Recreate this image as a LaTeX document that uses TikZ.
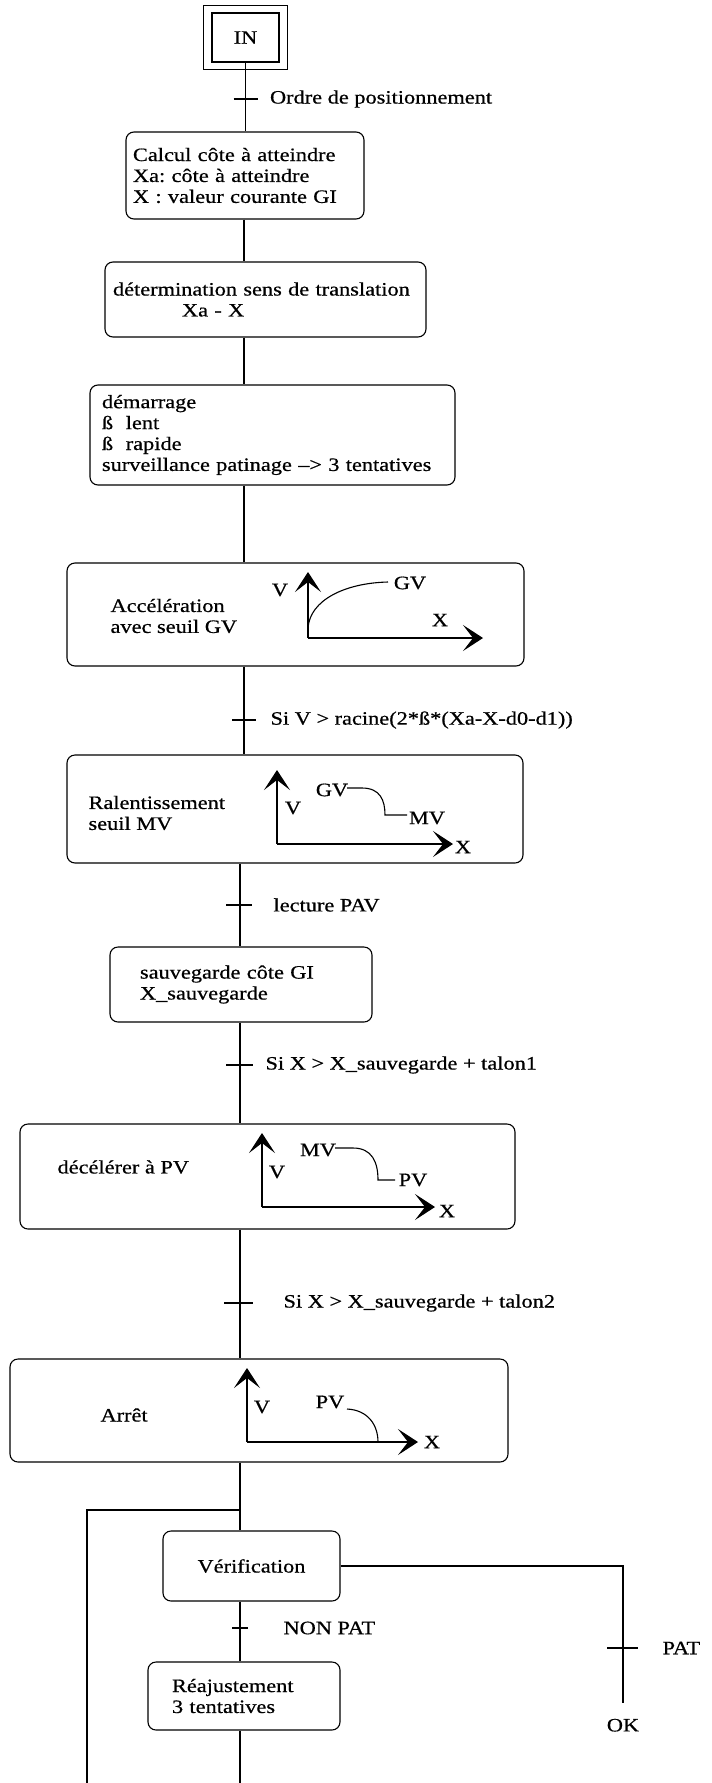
\documentclass[tikz,border=0pt]{standalone}
\usepackage{fontspec}
\setmainfont{Liberation Serif}[FakeStretch=1.18, FakeBold=0.6]
\usetikzlibrary{arrows.meta,positioning}
\frenchspacing

\begin{document}
\begin{tikzpicture}[x=1bp, y=-1bp, line width=1.1bp,
    font=\fontsize{19}{21}\selectfont,
    etape/.style={draw, rounded corners=8bp, inner ysep=0pt, align=left},
    fleche/.style={-{Stealth[length=20bp,width=26bp,inset=10bp]}},
    recept/.style={anchor=west, inner sep=0pt, align=left}]

    \useasboundingbox (0,0) rectangle (712,1783);

    % Etape initiale
    \node[draw, minimum width=67bp, minimum height=49bp] (in) at (245.5,37.5) {IN};
    \draw ([shift={(-8,-7)}]in.north west) rectangle ([shift={(8,7)}]in.south east);

    % Etapes
    \node[etape, inner xsep=7bp, text width=224bp, minimum height=87bp]
        (calc) at (245,175.5) {Calcul côte à atteindre\\Xa: côte à atteindre\\X : valeur courante GI};
    \node[etape, inner xsep=8bp, text width=305bp, minimum height=75bp]
        (sens) at (265.5,299.5) {détermination sens de translation\\\hspace*{69bp}Xa - X};
    \node[etape, inner xsep=12bp, text width=341bp, minimum height=100bp]
        (dem) at (272.5,435) {démarrage\\ß\ \ lent\\ß\ \ rapide\\surveillance patinage --> 3 tentatives};
    \node[etape, minimum width=457bp, minimum height=103bp] (acc) at (295.5,614.5) {};
    \node[etape, minimum width=456bp, minimum height=108bp] (ral) at (295,809) {};
    \node[etape, inner xsep=30bp, text width=202bp, minimum height=75bp]
        (sauv) at (241,984.5) {sauvegarde côte GI\\X\_sauvegarde};
    \node[etape, minimum width=495bp, minimum height=105bp] (dec) at (267.5,1176.5) {};
    \node[etape, minimum width=498bp, minimum height=103bp] (arr) at (259,1410.5) {};
    \node[etape, align=center, minimum width=177bp, minimum height=70bp]
        (verif) at (251.5,1566) {Vérification};
    \node[etape, inner xsep=24bp, text width=144bp, minimum height=68bp]
        (reaj) at (244,1696) {Réajustement\\3 tentatives};

    % Textes des etapes avec courbe
    \node[recept] (acc-txt) at (110,616) {Accélération\\avec seuil GV};
    \node[recept] (ral-txt) at (88,813) {Ralentissement\\seuil MV};
    \node[recept] (dec-txt) at (57,1167) {décélérer à PV};
    \node[recept] (arr-txt) at (100,1415) {Arrêt};

    % Courbe acceleration
    \coordinate (acc-o) at (308,638);
    \draw[fleche] (acc-o) -- ++(0,-66);
    \draw[fleche] (acc-o) -- ++(175,0);
    \draw (308,628) .. controls (310,600) and (345,583) .. (388,582);
    \node (acc-v) at (280,590) {V};
    \node (acc-gv) at (410,583) {GV};
    \node (acc-x) at (440,620) {X};

    % Courbe ralentissement
    \coordinate (ral-o) at (277,844);
    \draw[fleche] (ral-o) -- ++(0,-74);
    \draw[fleche] (ral-o) -- ++(176,0);
    \draw (347,788) -- (362,788) .. controls (380,788) and (385,800) .. (385,815) -- (407,815);
    \node (ral-v) at (293,808) {V};
    \node (ral-gv) at (332,790) {GV};
    \node (ral-mv) at (427,818) {MV};
    \node (ral-x) at (463,847) {X};

    % Courbe deceleration
    \coordinate (dec-o) at (262,1207);
    \draw[fleche] (dec-o) -- ++(0,-74);
    \draw[fleche] (dec-o) -- ++(173,0);
    \draw (335,1148) -- (353,1148) .. controls (372,1148) and (378,1162) .. (378,1180) -- (395,1180);
    \node (dec-v) at (277,1172) {V};
    \node (dec-mv) at (318,1150) {MV};
    \node (dec-pv) at (413,1180) {PV};
    \node (dec-x) at (447,1211) {X};

    % Courbe arret
    \coordinate (arr-o) at (247,1442);
    \draw[fleche] (arr-o) -- ++(0,-74);
    \draw[fleche] (arr-o) -- ++(171,0);
    \draw (347,1409) .. controls (368,1410) and (378,1425) .. (378,1442);
    \node (arr-v) at (262,1407) {V};
    \node (arr-pv) at (330,1402) {PV};
    \node (arr-x) at (432,1442) {X};

    % Liaisons
    \coordinate (fil) at (244,0);
    \coordinate (fil2) at (240,0);
    \draw (in.south) -- (in.south |- calc.north);
    \draw (fil |- calc.south) -- (fil |- sens.north);
    \draw (fil |- sens.south) -- (fil |- dem.north);
    \draw (fil |- dem.south) -- (fil |- acc.north);
    \draw (fil |- acc.south) -- (fil |- ral.north);
    \draw (fil2 |- ral.south) -- (fil2 |- sauv.north);
    \draw (fil2 |- sauv.south) -- (fil2 |- dec.north);
    \draw (fil2 |- dec.south) -- (fil2 |- arr.north);
    \draw (fil2 |- arr.south) -- (fil2 |- verif.north);
    \draw (fil2 |- verif.south) -- (fil2 |- reaj.north);
    \coordinate (fin) at (240,1783);
    \draw (fil2 |- reaj.south) -- (fin);

    % Reprise
    \coordinate (boucle) at (87,1510);
    \draw (fil2 |- boucle) -- (boucle) -- (boucle |- fin);

    % Branche PAT
    \coordinate (patfin) at (623,1703);
    \draw (verif.east) -| (patfin);
    \node[below=12bp of patfin] (ok) {OK};

    % Transitions
    \coordinate (t1) at (245.5,99);
    \draw ([xshift=-12bp]t1) -- ([xshift=12bp]t1);
    \node[recept, right=24bp of t1] (t1-txt) {Ordre de positionnement};

    \coordinate (t2) at (244,720);
    \draw ([xshift=-12bp]t2) -- ([xshift=12bp]t2);
    \node[recept, right=26bp of t2] (t2-txt) {Si V > racine(2*ß*(Xa-X-d0-d1))};

    \coordinate (t3) at (240,905);
    \draw ([xshift=-14bp]t3) -- ([xshift=12bp]t3);
    \node[recept, right=33bp of t3] (t3-txt) {lecture PAV};

    \coordinate (t4) at (240,1065);
    \draw ([xshift=-14bp]t4) -- ([xshift=13bp]t4);
    \node[recept, right=25bp of t4] (t4-txt) {Si X > X\_sauvegarde + talon1};

    \coordinate (t5) at (240,1303);
    \draw ([xshift=-16bp]t5) -- ([xshift=13bp]t5);
    \node[recept, right=43bp of t5] (t5-txt) {Si X > X\_sauvegarde + talon2};

    \coordinate (t6) at (240,1628);
    \draw ([xshift=-8bp]t6) -- ([xshift=8bp]t6);
    \node[recept, right=43bp of t6] (t6-txt) {NON PAT};

    \coordinate (t7) at (623,1648);
    \draw ([xshift=-16bp]t7) -- ([xshift=15bp]t7);
    \node[recept, right=39bp of t7] (t7-txt) {PAT};

\end{tikzpicture}
\end{document}
